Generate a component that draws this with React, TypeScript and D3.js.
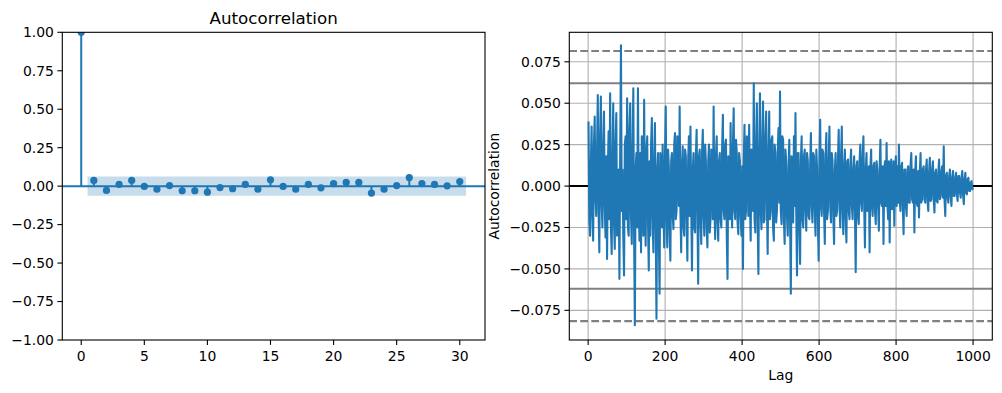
import React from "react";
import * as d3 from "d3";

// left panel: statsmodels-style ACF, lags 0..30
const acfValues = [
  1.0, 0.037, -0.028, 0.011, 0.037, -0.002, -0.02, 0.004, -0.03, -0.03, -0.039,
  -0.009, -0.017, 0.011, -0.02, 0.041, -0.002, -0.02, 0.011, -0.011, 0.017,
  0.024, 0.024, -0.045, -0.02, 0.004, 0.056, 0.017, 0.011, 0.002, 0.03,
];
const acfBand = 0.062;
const acfYTicks = [-1, -0.75, -0.5, -0.25, 0, 0.25, 0.5, 0.75, 1];
const acfXTicks = [0, 5, 10, 15, 20, 25, 30];

// right panel: pandas-style autocorrelation plot, lags 1..1000
// read roughly every 2 lags: corrEven at lags 1,5,9,... and corrOdd in between
const corrEven = [
  0.039, -0.03, 0.036, -0.033, 0.042, -0.018, 0.055, -0.04, 0.054, -0.025,
  0.045, -0.031, -0.044, 0.033, 0.056, -0.041, 0.05, -0.038, 0.044, -0.02,
  -0.056, 0.085, 0.01, -0.054, 0.03, 0.053, -0.03, 0.05, -0.035, 0.059,
  -0.084, 0.02, 0.059, -0.033, -0.04, 0.015, 0.052, -0.036, 0.03, -0.051,
  -0.03, 0.041, -0.04, 0.038, -0.08, 0.02, -0.065, 0.01, 0.025, -0.037,
  0.048, -0.037, 0.012, -0.045, 0.02, -0.026, 0.032, -0.015, 0.026, 0.048,
  -0.04, 0.024, -0.03, 0.018, -0.045, 0.03, 0.036, -0.051, 0.02, -0.028,
  0.034, -0.059, 0.022, -0.035, 0.034, -0.03, 0.015, -0.037, 0.025, -0.02,
  0.01, 0.048, -0.032, 0.03, -0.033, 0.02, -0.025, 0.043, -0.02, 0.028,
  -0.056, 0.012, 0.038, -0.025, 0.047, -0.02, 0.02, -0.029, 0.015, -0.03,
  -0.05, 0.037, -0.015, 0.025, 0.037, -0.033, 0.02, 0.062, -0.028, 0.05,
  -0.053, 0.056, -0.026, 0.051, -0.02, 0.045, -0.041, 0.045, -0.015, 0.03,
  -0.033, 0.02, -0.015, 0.035, 0.057, -0.023, 0.028, -0.035, 0.015, -0.03,
  0.028, -0.065, 0.015, 0.03, 0.044, -0.054, 0.02, -0.047, 0.03, -0.025,
  0.022, -0.027, 0.015, -0.02, 0.032, -0.022, 0.018, -0.03, 0.01, -0.045,
  0.04, -0.018, 0.02, -0.035, 0.032, -0.015, 0.036, -0.022, 0.015, -0.035,
  0.02, -0.015, 0.034, -0.025, 0.036, -0.029, 0.022, -0.034, 0.016, -0.02,
  0.022, -0.02, 0.018, -0.052, 0.015, -0.023, 0.025, -0.015, 0.03, -0.037,
  0.02, -0.012, -0.04, 0.022, -0.018, 0.014, -0.023, 0.01, -0.027, 0.028,
  -0.012, -0.035, 0.015, 0.026, -0.02, -0.034, 0.016, -0.01, -0.024, 0.018,
  0.012, 0.025, -0.015, 0.014, -0.029, 0.01, -0.018, 0.012, -0.01, 0.02,
  -0.01, -0.028, 0.018, -0.012, -0.019, 0.02, -0.008, 0.012, -0.01, 0.016,
  -0.015, 0.017, -0.008, 0.015, -0.016, 0.01, -0.01, 0.016, -0.006, 0.012,
  0.024, -0.018, 0.008, -0.01, 0.01, -0.012, 0.009, -0.006, 0.008, -0.009,
  0.006, -0.007, 0.009, -0.011, 0.008, -0.005, 0.005, -0.003, 0.003, -0.001,
];
const corrOdd = [
  -0.021, 0.012, -0.018, 0.025, -0.008, 0.02, -0.015, 0.03, -0.01, 0.022,
  -0.012, 0.018, 0.01, -0.02, -0.025, 0.015, -0.022, 0.026, -0.03, 0.01,
  0.02, -0.015, -0.03, 0.025, -0.02, -0.025, 0.035, -0.018, 0.02, -0.03,
  0.01, -0.025, -0.012, 0.02, 0.03, -0.03, -0.01, 0.022, -0.02, 0.015,
  0.025, -0.02, 0.015, -0.025, 0.01, -0.03, 0.02, -0.025, -0.015, 0.018,
  -0.02, 0.022, -0.028, 0.015, -0.018, 0.025, -0.02, 0.03, -0.012, -0.015,
  0.012, -0.025, 0.022, -0.02, 0.015, -0.018, -0.012, 0.01, -0.025, 0.018,
  -0.015, 0.018, -0.02, 0.02, -0.018, 0.025, -0.025, 0.015, -0.028, 0.022,
  -0.02, -0.012, 0.018, -0.022, 0.015, -0.02, 0.022, -0.015, 0.025, -0.03,
  0.018, -0.02, -0.012, 0.025, -0.015, 0.028, -0.022, 0.02, -0.018, 0.012,
  0.015, -0.02, 0.03, -0.018, -0.01, 0.022, -0.015, -0.02, 0.025, -0.02,
  0.02, -0.015, 0.025, -0.022, 0.03, -0.012, 0.018, -0.02, 0.028, -0.025,
  0.025, -0.022, 0.02, -0.01, -0.015, 0.03, -0.02, 0.022, -0.018, 0.01,
  -0.02, 0.018, -0.022, -0.012, -0.015, 0.02, -0.025, 0.015, -0.02, 0.018,
  -0.015, 0.02, -0.018, 0.012, -0.012, 0.02, -0.015, 0.022, -0.02, 0.015,
  -0.012, 0.022, -0.015, 0.018, -0.02, 0.015, -0.012, 0.02, -0.018, 0.01,
  -0.018, 0.015, -0.01, 0.018, -0.015, 0.012, -0.02, 0.015, -0.015, 0.012,
  -0.012, 0.01, -0.015, 0.012, -0.018, 0.015, -0.01, 0.018, -0.012, 0.01,
  -0.015, 0.012, 0.01, -0.012, 0.012, -0.015, 0.015, -0.012, 0.01, -0.01,
  0.012, 0.01, -0.012, -0.01, 0.015, 0.008, -0.014, 0.015, 0.01, -0.012,
  -0.01, -0.008, 0.012, -0.012, 0.01, -0.012, 0.01, -0.01, 0.012, -0.008,
  0.01, 0.008, -0.01, 0.009, 0.008, -0.01, 0.01, -0.008, 0.01, -0.009,
  0.008, -0.009, 0.01, -0.008, 0.008, -0.009, 0.008, -0.008, 0.009, -0.007,
  -0.008, 0.006, -0.007, 0.006, -0.006, 0.005, -0.006, 0.005, -0.005, 0.006,
  -0.004, 0.005, -0.005, 0.004, -0.004, 0.004, -0.003, 0.002, -0.002,
];
const corrN = 1000;
const corrBand95 = [0.062, -0.062];
const corrBand99 = [0.0815, -0.0815];
const corrYTicks = [-0.075, -0.05, -0.025, 0, 0.025, 0.05, 0.075];
const corrXTicks = [0, 200, 400, 600, 800, 1000];

const blue = "#1f77b4";
const font = "DejaVu Sans, sans-serif";

const L = { x0: 62.3, x1: 485, y0: 32.3, y1: 340 };
const R = { x0: 569.3, x1: 992.3, y0: 32.3, y1: 340 };

export default function App() {
  const ax = d3.scaleLinear().domain([-1.5, 32]).range([L.x0, L.x1]);
  const ay = d3.scaleLinear().domain([-1, 1]).range([L.y1, L.y0]);
  const bx = d3.scaleLinear().domain([-48.95, 1049.95]).range([R.x0, R.x1]);
  const by = d3.scaleLinear().domain([-0.0929, 0.0928]).range([R.y1, R.y0]);

  const fmt2 = d3.format(".2f");
  const fmt3 = d3.format(".3f");

  // interleave the two readings into one series
  const corr = corrEven.flatMap((v, i) => (i < corrOdd.length ? [v, corrOdd[i]] : [v]));
  const lags = corr.map((_, i) => 1 + (i * (corrN - 1)) / (corr.length - 1));
  const line = d3
    .line<number>()
    .x((_, i) => bx(lags[i]))
    .y((d) => by(d));

  const bandArea = d3
    .area<number>()
    .x((d) => ax(d))
    .y0(ay(-acfBand))
    .y1(ay(acfBand));

  return (
    <svg
      width={1002}
      height={393}
      style={{ position: "absolute", left: 0, top: 0, background: "#fff" }}
      fontFamily={font}
    >
      <defs>
        <clipPath id="clipL">
          <rect x={L.x0} y={L.y0} width={L.x1 - L.x0} height={L.y1 - L.y0} />
        </clipPath>
        <clipPath id="clipR">
          <rect x={R.x0} y={R.y0} width={R.x1 - R.x0} height={R.y1 - R.y0} />
        </clipPath>
      </defs>

      {/* left panel */}
      <text x={(L.x0 + L.x1) / 2} y={24} textAnchor="middle" fontSize={16.7}>
        Autocorrelation
      </text>
      <g clipPath="url(#clipL)">
        {acfValues.map((v, i) => (
          <line key={i} x1={ax(i)} x2={ax(i)} y1={ay(0)} y2={ay(v)} stroke={blue} strokeWidth={2} />
        ))}
        <line x1={L.x0} x2={L.x1} y1={ay(0)} y2={ay(0)} stroke={blue} strokeWidth={2} />
        <path d={bandArea([0.5, acfValues.length - 0.5]) || ""} fill={blue} fillOpacity={0.25} />
        {acfValues.map((v, i) => (
          <circle key={i} cx={ax(i)} cy={ay(v)} r={3.6} fill={blue} />
        ))}
      </g>
      <rect x={L.x0} y={L.y0} width={L.x1 - L.x0} height={L.y1 - L.y0} fill="none" stroke="#000" strokeWidth={1.1} />
      {acfYTicks.map((t) => (
        <g key={t}>
          <line x1={L.x0 - 4.9} x2={L.x0} y1={ay(t)} y2={ay(t)} stroke="#000" strokeWidth={1.1} />
          <text x={L.x0 - 8.4} y={ay(t)} dy="0.35em" textAnchor="end" fontSize={13.9}>
            {fmt2(t)}
          </text>
        </g>
      ))}
      {acfXTicks.map((t) => (
        <g key={t}>
          <line x1={ax(t)} x2={ax(t)} y1={L.y1} y2={L.y1 + 4.9} stroke="#000" strokeWidth={1.1} />
          <text x={ax(t)} y={361} textAnchor="middle" fontSize={13.9}>
            {t}
          </text>
        </g>
      ))}

      {/* right panel */}
      <g stroke="#b0b0b0" strokeWidth={1.1}>
        {corrXTicks.map((t) => (
          <line key={t} x1={bx(t)} x2={bx(t)} y1={R.y0} y2={R.y1} />
        ))}
        {corrYTicks.map((t) => (
          <line key={t} x1={R.x0} x2={R.x1} y1={by(t)} y2={by(t)} />
        ))}
      </g>
      <g clipPath="url(#clipR)">
        {corrBand95.map((v) => (
          <line key={v} x1={R.x0} x2={R.x1} y1={by(v)} y2={by(v)} stroke="#808080" strokeWidth={2.08} />
        ))}
        {corrBand99.map((v) => (
          <line
            key={v}
            x1={R.x0}
            x2={R.x1}
            y1={by(v)}
            y2={by(v)}
            stroke="#808080"
            strokeWidth={2.08}
            strokeDasharray="7.7 3.3"
          />
        ))}
        <line x1={R.x0} x2={R.x1} y1={by(0)} y2={by(0)} stroke="#000" strokeWidth={2.08} />
        <path d={line(corr) || ""} fill="none" stroke={blue} strokeWidth={2.08} strokeLinejoin="round" />
      </g>
      <rect x={R.x0} y={R.y0} width={R.x1 - R.x0} height={R.y1 - R.y0} fill="none" stroke="#000" strokeWidth={1.1} />
      {corrYTicks.map((t) => (
        <g key={t}>
          <line x1={R.x0 - 4.9} x2={R.x0} y1={by(t)} y2={by(t)} stroke="#000" strokeWidth={1.1} />
          <text x={R.x0 - 8.4} y={by(t)} dy="0.35em" textAnchor="end" fontSize={13.9}>
            {fmt3(t)}
          </text>
        </g>
      ))}
      {corrXTicks.map((t) => (
        <g key={t}>
          <line x1={bx(t)} x2={bx(t)} y1={R.y1} y2={R.y1 + 4.9} stroke="#000" strokeWidth={1.1} />
          <text x={bx(t)} y={361} textAnchor="middle" fontSize={13.9}>
            {t}
          </text>
        </g>
      ))}
      <text x={(R.x0 + R.x1) / 2} y={380} textAnchor="middle" fontSize={13.9}>
        Lag
      </text>
      <text
        transform={`translate(499, ${(R.y0 + R.y1) / 2}) rotate(-90)`}
        textAnchor="middle"
        fontSize={13.9}
      >
        Autocorrelation
      </text>
    </svg>
  );
}
